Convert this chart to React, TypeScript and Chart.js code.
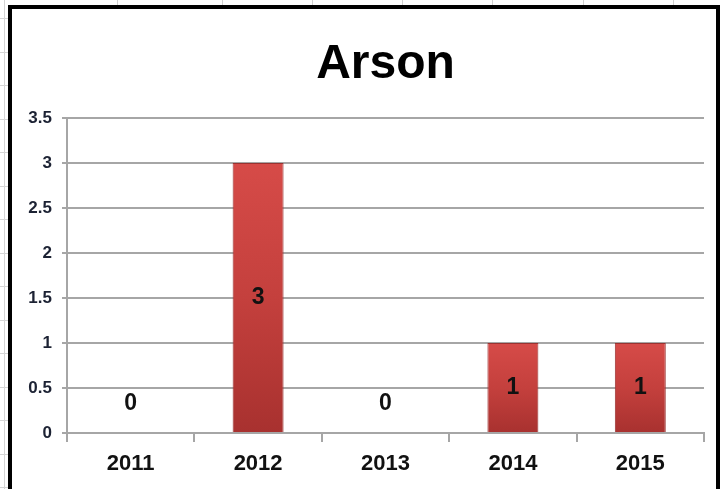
import React, { useEffect, useRef } from "react";
import { Chart, registerables } from "chart.js";

Chart.register(...registerables);

const title = "Arson";
const categories = ["2011", "2012", "2013", "2014", "2015"];
const values = [0, 3, 0, 1, 1];
const yTicks = [0, 0.5, 1, 1.5, 2, 2.5, 3, 3.5];

const FONT = "'Liberation Sans', Arial, sans-serif";

const valueLabels = {
  id: "valueLabels",
  afterDatasetsDraw(chart: any) {
    const { ctx } = chart;
    const meta = chart.getDatasetMeta(0);
    ctx.save();
    ctx.font = `bold 23px ${FONT}`;
    ctx.fillStyle = "#111";
    ctx.textAlign = "center";
    ctx.textBaseline = "middle";
    meta.data.forEach((el: any, i: number) => {
      const p = el.getProps(["x", "y", "base"], true);
      let cy = (p.y + p.base) / 2;
      cy = Math.min(cy, p.base - 29);
      ctx.fillText(String(values[i]), p.x, cy);
    });
    ctx.restore();
  },
};

export default function App() {
  const ref = useRef<HTMLCanvasElement>(null);
  useEffect(() => {
    if (!ref.current) return;
    const chart = new Chart(ref.current, {
      type: "bar",
      data: {
        labels: categories,
        datasets: [
          {
            data: values,
            backgroundColor: (c: any) => {
              const chartObj = c.chart;
              const ys = chartObj.scales && chartObj.scales.y;
              if (!ys || c.raw === undefined) return "#c23f3c";
              const top = ys.getPixelForValue(c.raw);
              const base = ys.getPixelForValue(0);
              if (!(base > top)) return "#c23f3c";
              const g = chartObj.ctx.createLinearGradient(0, top, 0, base);
              g.addColorStop(0, "#d64b48");
              g.addColorStop(0.5, "#c4403d");
              g.addColorStop(1, "#a8312f");
              return g;
            },
            borderColor: "#9a3230",
            borderWidth: 1,
            barPercentage: 0.4,
            categoryPercentage: 1,
          },
        ],
      },
      options: {
        animation: false,
        responsive: false,
        maintainAspectRatio: false,
        layout: { padding: { left: 0, right: 12, top: 0, bottom: 0 } },
        plugins: {
          legend: { display: false },
          tooltip: { enabled: false },
          title: {
            display: true,
            fullSize: false,
            text: title,
            color: "#000",
            font: { family: FONT, size: 48, weight: "bold", lineHeight: 1 },
            padding: { top: 32, bottom: 29 },
          },
        },
        scales: {
          x: {
            grid: {
              offset: true,
              drawOnChartArea: false,
              drawTicks: true,
              tickLength: 9,
              color: "#a6a6a6",
              lineWidth: 2,
            },
            border: { color: "#a6a6a6", width: 2 },
            ticks: {
              color: "#111",
              font: { family: FONT, size: 22, weight: "bold" },
              padding: 9,
            },
            afterFit: (s: any) => {
              s.height = 56;
            },
          },
          y: {
            min: 0,
            max: 3.5,
            afterBuildTicks: (s: any) => {
              s.ticks = yTicks.map((v) => ({ value: v }));
            },
            grid: {
              color: "#a6a6a6",
              lineWidth: 2,
              tickLength: 5,
            },
            border: { color: "#a6a6a6", width: 2 },
            ticks: {
              color: "#1c2233",
              font: { family: FONT, size: 17, weight: "bold" },
              padding: 10,
              callback: (v: any) => String(v),
            },
            afterFit: (s: any) => {
              s.width = 55;
            },
          },
        },
      },
      plugins: [valueLabels],
    });
    return () => chart.destroy();
  }, []);

  const topLines = [117, 222, 312, 402, 492, 583, 673];
  const leftRows = Array.from({ length: 15 }, (_, k) => 18 + 33.5 * k);

  return (
    <div
      style={{
        position: "absolute",
        left: 0,
        top: 0,
        width: 722,
        height: 489,
        overflow: "hidden",
        background: "#fff",
      }}
    >
      <div style={{ position: "absolute", left: 4, top: 0, width: 1, height: 489, background: "#d4d4d4" }} />
      {topLines.map((x) => (
        <div key={"t" + x} style={{ position: "absolute", left: x, top: 0, width: 1, height: 6, background: "#d0d0d0" }} />
      ))}
      {leftRows.map((y) => (
        <div key={"l" + y} style={{ position: "absolute", left: 0, top: Math.round(y), width: 8, height: 1, background: "#d4d4d4" }} />
      ))}
      <div
        style={{
          position: "absolute",
          left: 8,
          top: 5,
          width: 704,
          height: 520,
          border: "4px solid #000",
          background: "#fff",
        }}
      />
      <canvas
        ref={ref}
        width={704}
        height={480}
        style={{ position: "absolute", left: 12, top: 9, width: 704, height: 480 }}
      />
    </div>
  );
}
